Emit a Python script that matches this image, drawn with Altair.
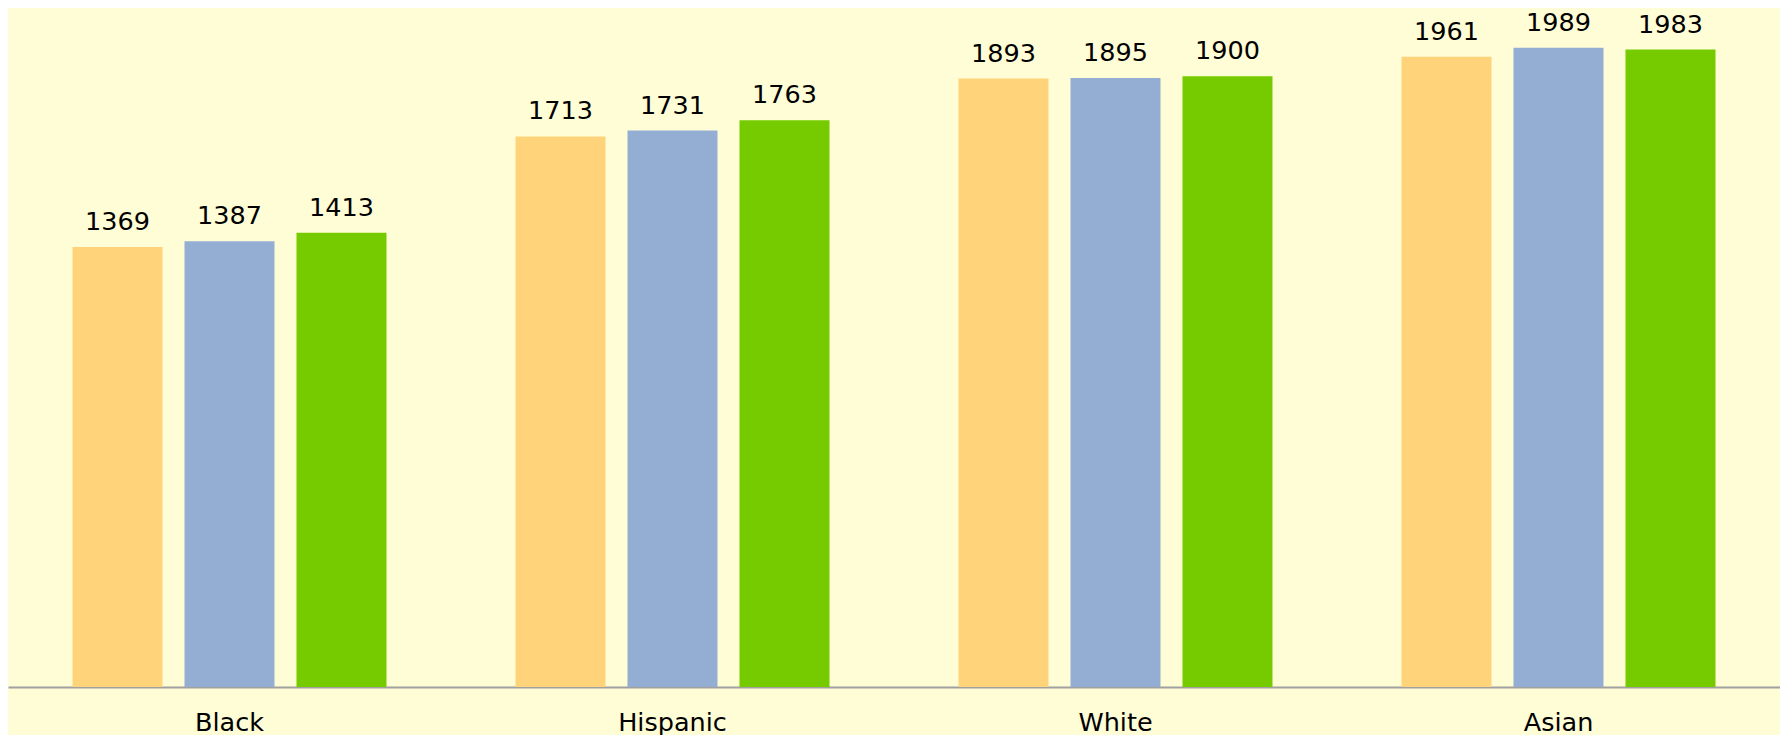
import altair as alt
import pandas as pd

groups = ["Black", "Hispanic", "White", "Asian"]
series = ["Series 1", "Series 2", "Series 3"]
series1 = [1369, 1713, 1893, 1961]
series2 = [1387, 1731, 1895, 1989]
series3 = [1413, 1763, 1900, 1983]
colors = ["#FFD37A", "#94ADD3", "#76CB00"]

rows = []
for name, vals in zip(series, [series1, series2, series3]):
    for g, v in zip(groups, vals):
        rows.append({"group": g, "series": name, "value": v})
df = pd.DataFrame(rows)

FONT = "DejaVu Sans"
FS = 25.5

x_enc = alt.X(
    "group:N",
    sort=groups,
    scale=alt.Scale(paddingInner=0, paddingOuter=0),
    axis=alt.Axis(
        title=None, labelAngle=0, ticks=False, tickSize=0, grid=False,
        domainColor="#A0A0A0", domainWidth=2,
        labelFont=FONT, labelFontSize=FS, labelColor="#000000",
        labelBaseline="alphabetic", labelPadding=43,
    ),
)
xo_enc = alt.XOffset("series:N", sort=series,
                     scale=alt.Scale(paddingInner=0.1964, paddingOuter=0.576))
y_scale = alt.Scale(domain=[0, 2100], nice=False, zero=True)

base = alt.Chart(df).encode(x=x_enc, xOffset=xo_enc)

bars = base.mark_bar().encode(
    y=alt.Y("value:Q", scale=y_scale, axis=None),
    color=alt.Color("series:N", sort=series,
                    scale=alt.Scale(domain=series, range=colors), legend=None),
)
labels = base.mark_text(baseline="alphabetic", dy=-17, font=FONT,
                        fontSize=FS, color="#000000").encode(
    y=alt.Y("value:Q", scale=y_scale, axis=None),
    text=alt.Text("value:Q"),
)

chart = (bars + labels).properties(
    width=1772, height=675, background="#FFFDD6",
    padding={"left": 0, "top": 2, "right": 0, "bottom": 0},
).configure_view(stroke=None)

chart.save("out.html", embed_options={"renderer": "svg", "actions": False})
